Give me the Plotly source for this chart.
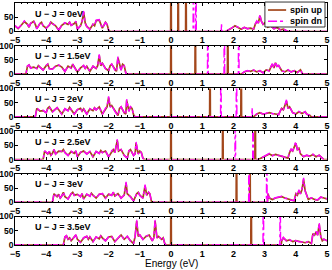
import plotly.graph_objects as go
from plotly.subplots import make_subplots

labels = ["U − J = 0eV", "U − J = 1.5eV", "U − J = 2eV",
          "U − J = 2.5eV", "U − J = 3eV", "U − J = 3.5eV"]
legend_names = ["spin up", "spin dn"]
x_ticks = [-5, -4, -3, -2, -1, 0, 1, 2, 3, 4, 5]
y_ticks = [0, 50, 100]

# ---------------- panel 1 : U-J = 0 eV ----------------
vb1_e = [-5.0, -4.95, -4.9, -4.8, -4.7, -4.6, -4.55, -4.5, -4.4, -4.35, -4.3, -4.2, -4.15, -4.1, -4.0,
         -3.9, -3.85, -3.8, -3.7, -3.6, -3.5, -3.4, -3.3, -3.25, -3.2, -3.1, -3.05, -3.0, -2.9, -2.85,
         -2.8, -2.75, -2.7, -2.6, -2.5, -2.45, -2.4, -2.3, -2.2, -2.1, -2.05, -2.0, -1.95]
vb1_up = [20, 15, 10, 22, 35, 25, 15, 28, 36, 25, 10, 28, 32, 20, 12,
          22, 33, 28, 20, 5, 22, 30, 25, 32, 22, 28, 35, 8, 20, 35,
          68, 30, 18, 8, 25, 20, 38, 40, 12, 32, 25, 5, 0]
vb1_dn = [21, 14, 11, 23, 37, 24, 16, 29, 38, 24, 9, 29, 33, 19, 11,
          23, 35, 27, 21, 4, 23, 31, 24, 34, 21, 29, 36, 7, 21, 36,
          72, 29, 17, 7, 26, 21, 40, 42, 11, 33, 24, 4, 0]
cb1_e = [1.75, 1.85, 1.95, 2.05, 2.15, 2.25, 2.35, 2.45, 2.55, 2.65, 2.7, 2.75, 2.8, 2.85, 2.9,
         2.95, 3.0, 3.1, 3.2, 3.3, 3.4, 3.5, 3.6, 3.7, 3.75]
cb1_up = [0, 5, 12, 20, 15, 8, 14, 10, 12, 8, 25, 35, 30, 55, 35,
          25, 30, 15, 20, 10, 14, 6, 8, 3, 0]
cb1_dn = [0, 6, 13, 21, 14, 9, 15, 9, 13, 9, 27, 37, 29, 60, 34,
          26, 31, 14, 21, 9, 15, 5, 9, 2, 0]
pk1_up_e = [0.0, 0.23, 0.48]
pk1_up_h = [300, 300, 300]
pk1_dn_e = [0.72, 0.80, 1.62]
pk1_dn_h = [300, 300, 25]

# ---------------- panel 2 : U-J = 1.5 eV ----------------
vb2_e = [-4.65, -4.6, -4.55, -4.5, -4.4, -4.3, -4.25, -4.2, -4.1, -4.0, -3.95, -3.9, -3.8, -3.7, -3.6,
         -3.5, -3.4, -3.3, -3.2, -3.15, -3.1, -3.0, -2.9, -2.8, -2.75, -2.7, -2.6, -2.5, -2.4, -2.35,
         -2.3, -2.25, -2.2, -2.1, -2.0, -1.95, -1.9, -1.8, -1.75, -1.7, -1.65, -1.6, -1.55, -1.5, -1.45, -1.4]
vb2_up = [0, 28, 32, 22, 25, 20, 30, 25, 15, 30, 35, 20, 18, 28, 32,
          25, 10, 28, 22, 35, 25, 8, 22, 30, 20, 28, 10, 28, 20, 30,
          66, 30, 38, 20, 12, 30, 35, 15, 10, 58, 30, 15, 35, 30, 5, 0]
vb2_dn = [0, 29, 33, 21, 26, 19, 31, 24, 14, 31, 36, 19, 17, 29, 33,
          24, 9, 29, 21, 36, 24, 7, 23, 31, 19, 29, 9, 29, 21, 31,
          70, 29, 39, 19, 11, 31, 36, 14, 9, 62, 29, 14, 36, 31, 4, 0]
cb2_e = [2.25, 2.35, 2.45, 2.55, 2.65, 2.75, 2.85, 2.95, 3.05, 3.15, 3.2, 3.25, 3.3, 3.35, 3.4,
         3.45, 3.55, 3.65, 3.75, 3.85, 3.95, 4.05, 4.15, 4.22]
cb2_up = [0, 8, 12, 10, 14, 8, 12, 5, 15, 12, 25, 35, 22, 40, 28,
          30, 12, 8, 15, 8, 12, 6, 15, 0]
cb2_dn = [0, 9, 13, 9, 15, 7, 13, 4, 16, 11, 27, 37, 21, 44, 27,
          31, 11, 9, 16, 7, 13, 5, 16, 0]
pk2_up_e = [0.0, 0.78, 1.82]
pk2_up_h = [300, 300, 300]
pk2_dn_e = [1.18, 1.71, 2.17]
pk2_dn_h = [300, 300, 300]

# ---------------- panel 3 : U-J = 2 eV ----------------
vb3_e = [-4.35, -4.3, -4.25, -4.2, -4.1, -4.0, -3.95, -3.9, -3.8, -3.7, -3.65, -3.6, -3.5, -3.4, -3.3,
         -3.25, -3.2, -3.1, -3.0, -2.9, -2.85, -2.8, -2.7, -2.6, -2.5, -2.45, -2.4, -2.3, -2.2, -2.1,
         -2.05, -2.0, -1.95, -1.9, -1.8, -1.7, -1.65, -1.6, -1.5, -1.45, -1.42, -1.35, -1.3, -1.25,
         -1.2, -1.15]
vb3_up = [0, 30, 25, 20, 22, 15, 30, 35, 18, 28, 32, 25, 10, 28, 22,
          33, 25, 10, 25, 30, 20, 28, 10, 28, 22, 32, 25, 35, 10, 30,
          35, 68, 35, 40, 20, 5, 30, 35, 15, 10, 58, 20, 35, 30,
          8, 0]
vb3_dn = [0, 31, 24, 21, 23, 14, 31, 36, 17, 29, 33, 24, 9, 29, 21,
          34, 24, 9, 26, 31, 19, 29, 9, 29, 21, 33, 24, 36, 9, 31,
          36, 72, 34, 41, 19, 4, 31, 36, 14, 9, 62, 19, 36, 31,
          7, 0]
cb3_e = [2.65, 2.75, 2.85, 2.95, 3.05, 3.15, 3.25, 3.35, 3.45, 3.5, 3.55, 3.6, 3.65, 3.7, 3.75,
         3.8, 3.9, 4.0, 4.1, 4.2, 4.3, 4.35, 4.45, 4.5]
cb3_up = [0, 10, 15, 10, 12, 15, 12, 10, 8, 20, 30, 25, 40, 55, 30,
          35, 15, 10, 18, 12, 18, 10, 5, 0]
cb3_dn = [0, 11, 16, 9, 13, 16, 11, 11, 7, 22, 32, 24, 43, 60, 29,
          36, 14, 11, 19, 11, 19, 9, 6, 0]
pk3_up_e = [0.0, 1.25, 2.25]
pk3_up_h = [300, 300, 300]
pk3_dn_e = [1.60, 2.10, 2.60]
pk3_dn_h = [300, 300, 32]

# ---------------- panel 4 : U-J = 2.5 eV ----------------
vb4_e = [-4.1, -4.05, -4.0, -3.95, -3.9, -3.85, -3.8, -3.75, -3.7, -3.6, -3.5, -3.45, -3.4, -3.3, -3.2,
         -3.1, -3.05, -3.0, -2.9, -2.8, -2.7, -2.6, -2.5, -2.4, -2.3, -2.25, -2.2, -2.1, -2.0, -1.9,
         -1.85, -1.8, -1.72, -1.68, -1.6, -1.5, -1.4, -1.35, -1.3, -1.2, -1.15, -1.12, -1.05, -1.0,
         -0.95, -0.9, -0.85]
vb4_up = [0, 30, 25, 20, 28, 15, 22, 35, 20, 30, 28, 35, 25, 15, 28,
          22, 30, 10, 25, 30, 20, 28, 10, 28, 22, 32, 25, 30, 10, 30,
          35, 25, 68, 30, 35, 15, 5, 30, 35, 15, 20, 58, 20, 30,
          25, 5, 0]
vb4_dn = [0, 31, 24, 21, 29, 14, 23, 36, 19, 31, 29, 36, 24, 14, 29,
          21, 31, 9, 26, 31, 19, 29, 9, 29, 21, 33, 24, 31, 9, 31,
          36, 24, 72, 29, 36, 14, 4, 31, 36, 14, 21, 62, 19, 31,
          24, 4, 0]
cb4_e = [2.8, 2.9, 3.0, 3.1, 3.15, 3.25, 3.35, 3.45, 3.55, 3.65, 3.75, 3.8, 3.85, 3.9, 3.95,
         4.0, 4.05, 4.1, 4.15, 4.25, 4.35, 4.45, 4.55, 4.65, 4.75, 4.85, 4.9]
cb4_up = [0, 5, 10, 15, 20, 14, 18, 15, 12, 8, 5, 25, 35, 30, 45,
          58, 35, 40, 20, 10, 15, 12, 18, 10, 15, 5, 0]
cb4_dn = [0, 6, 11, 16, 22, 13, 19, 14, 13, 7, 6, 28, 37, 29, 48,
          64, 34, 42, 19, 11, 16, 11, 19, 9, 16, 4, 0]
pk4_up_e = [0.0, 1.66, 2.70]
pk4_up_h = [300, 300, 300]
pk4_dn_e = [2.06, 2.63]
pk4_dn_h = [300, 300]

# ---------------- panel 5 : U-J = 3 eV ----------------
vb5_e = [-3.8, -3.75, -3.7, -3.65, -3.6, -3.55, -3.5, -3.45, -3.4, -3.3, -3.2, -3.15, -3.1, -3.0, -2.9,
         -2.85, -2.8, -2.7, -2.6, -2.55, -2.5, -2.4, -2.3, -2.2, -2.1, -2.0, -1.9, -1.85, -1.8, -1.7,
         -1.6, -1.5, -1.44, -1.4, -1.3, -1.2, -1.1, -1.05, -1.0, -0.9, -0.83, -0.78, -0.72, -0.68, -0.62]
vb5_up = [0, 30, 25, 20, 28, 15, 22, 35, 20, 12, 30, 35, 25, 28, 20,
          30, 12, 28, 22, 32, 25, 15, 28, 30, 15, 28, 25, 35, 22, 30,
          15, 25, 68, 30, 20, 5, 30, 35, 25, 15, 58, 25, 35, 30, 0]
vb5_dn = [0, 31, 24, 21, 29, 14, 23, 36, 19, 11, 31, 36, 24, 29, 19,
          31, 11, 29, 21, 33, 24, 14, 29, 31, 14, 29, 24, 36, 21, 31,
          14, 26, 72, 29, 19, 4, 31, 36, 24, 14, 62, 24, 36, 31, 0]
cb5_e = [3.09, 3.11, 3.15, 3.25, 3.35, 3.45, 3.55, 3.65, 3.75, 3.85, 3.95, 4.0, 4.05, 4.1, 4.15, 4.2,
         4.25, 4.3, 4.4, 4.5, 4.6, 4.7, 4.8, 4.9, 5.0]
cb5_up = [0, 30, 15, 10, 15, 18, 20, 15, 12, 8, 5, 30, 25, 40, 30, 45,
          80, 40, 10, 15, 10, 8, 18, 15, 12]
cb5_dn = [0, 32, 16, 11, 16, 19, 21, 14, 13, 7, 6, 33, 24, 44, 29, 48,
          86, 39, 11, 16, 9, 9, 19, 14, 13]
pk5_up_e = [0.0, 2.10, 2.53]
pk5_up_h = [300, 300, 300]
pk5_dn_e = [2.50, 3.07]
pk5_dn_h = [300, 300]

# ---------------- panel 6 : U-J = 3.5 eV ----------------
vb6_e = [-3.45, -3.4, -3.35, -3.3, -3.25, -3.2, -3.1, -3.05, -3.0, -2.9, -2.8, -2.7, -2.65, -2.6, -2.5,
         -2.4, -2.3, -2.25, -2.2, -2.1, -2.0, -1.9, -1.8, -1.7, -1.65, -1.6, -1.5, -1.4, -1.3, -1.2,
         -1.15, -1.1, -1.05, -1.0, -0.9, -0.8, -0.7, -0.6, -0.55, -0.51, -0.45, -0.4, -0.3, -0.25,
         -0.2, -0.15]
vb6_up = [0, 28, 32, 20, 25, 15, 30, 35, 20, 10, 25, 30, 20, 28, 12,
          28, 22, 32, 25, 15, 28, 30, 12, 25, 30, 35, 20, 30, 15, 5,
          30, 84, 30, 35, 20, 30, 35, 15, 25, 84, 25, 30, 20, 25,
          5, 0]
vb6_dn = [0, 29, 33, 19, 26, 14, 31, 36, 19, 9, 26, 31, 19, 29, 11,
          29, 21, 33, 24, 14, 29, 31, 11, 26, 31, 36, 19, 31, 14, 4,
          31, 88, 29, 36, 19, 31, 36, 14, 26, 88, 24, 31, 19, 26,
          4, 0]
cb6_e = [3.53, 3.55, 3.6, 3.7, 3.8, 3.9, 4.0, 4.1, 4.2, 4.3, 4.4, 4.5, 4.55, 4.6, 4.65, 4.7,
         4.75, 4.8, 4.85, 4.9, 5.0]
cb6_up = [0, 15, 25, 15, 18, 12, 15, 12, 10, 8, 12, 5, 40, 35, 45, 35,
          72, 30, 15, 20, 15]
cb6_dn = [0, 16, 27, 14, 19, 11, 16, 11, 11, 7, 13, 6, 43, 34, 48, 34,
          78, 29, 16, 21, 14]
pk6_up_e = [0.0, 2.57]
pk6_up_h = [300, 300]
pk6_dn_e = [2.96, 3.50]
pk6_dn_h = [300, 300]

panels = [
    (vb1_e, vb1_up, vb1_dn, cb1_e, cb1_up, cb1_dn, pk1_up_e, pk1_up_h, pk1_dn_e, pk1_dn_h),
    (vb2_e, vb2_up, vb2_dn, cb2_e, cb2_up, cb2_dn, pk2_up_e, pk2_up_h, pk2_dn_e, pk2_dn_h),
    (vb3_e, vb3_up, vb3_dn, cb3_e, cb3_up, cb3_dn, pk3_up_e, pk3_up_h, pk3_dn_e, pk3_dn_h),
    (vb4_e, vb4_up, vb4_dn, cb4_e, cb4_up, cb4_dn, pk4_up_e, pk4_up_h, pk4_dn_e, pk4_dn_h),
    (vb5_e, vb5_up, vb5_dn, cb5_e, cb5_up, cb5_dn, pk5_up_e, pk5_up_h, pk5_dn_e, pk5_dn_h),
    (vb6_e, vb6_up, vb6_dn, cb6_e, cb6_up, cb6_dn, pk6_up_e, pk6_up_h, pk6_dn_e, pk6_dn_h),
]

UP_COLOR = "#A3471B"
DN_COLOR = "#FF00FF"
FONT = "Liberation Sans, Arial, sans-serif"
HW = 0.012  # half width of sharp peaks (eV)


def build(vb_e, vb_v, cb_e, cb_v, pk_e, pk_h):
    pts = [(-5.0, 0.0), (5.0, 0.0)]
    pts += list(zip(vb_e, vb_v))
    pts += list(zip(cb_e, cb_v))
    for e, h in zip(pk_e, pk_h):
        pts += [(e - HW, 0.0), (e, h), (e + HW, 0.0)]
    pts.sort(key=lambda p: p[0])
    xs, ys = [], []
    for x, y in pts:
        if xs and abs(xs[-1] - x) < 1e-9:
            ys[-1] = max(ys[-1], y)
        else:
            xs.append(x)
            ys.append(y)
    return xs, ys


n = len(panels)
fig = make_subplots(rows=n, cols=1, vertical_spacing=0.0587)

UP_LINE = dict(color=UP_COLOR, width=1.7)
DN_LINE = dict(color=DN_COLOR, width=1.4, dash="dashdot")

for i, p in enumerate(panels):
    vb_e, vb_up, vb_dn, cb_e, cb_up, cb_dn, pu_e, pu_h, pd_e, pd_h = p
    xu, yu = build(vb_e, vb_up, cb_e, cb_up, pu_e, pu_h)
    xd, yd = build(vb_e, vb_dn, cb_e, cb_dn, pd_e, pd_h)
    fig.add_trace(go.Scatter(x=xu, y=yu, mode="lines", name=legend_names[0],
                             line=UP_LINE, showlegend=False), row=i + 1, col=1)
    fig.add_trace(go.Scatter(x=xd, y=yd, mode="lines", name=legend_names[1],
                             line=DN_LINE, showlegend=False), row=i + 1, col=1)
    ax = "" if i == 0 else str(i + 1)
    fig.add_annotation(x=-4.42, y=63, xref="x" + ax, yref="y" + ax,
                       text=labels[i], showarrow=False, xanchor="left", yanchor="middle",
                       font=dict(family=FONT, size=9, color="black", weight="bold"))

fig.update_xaxes(range=[-5, 5], tickvals=x_ticks, ticks="inside", ticklen=3,
                 tickcolor="black", tickwidth=0.8,
                 minor=dict(dtick=0.2, tick0=0, ticks="inside", ticklen=1.5,
                            tickcolor="black", tickwidth=0.6),
                 mirror="allticks", showline=True, linecolor="black", linewidth=0.8,
                 showgrid=False, zeroline=False, automargin=False,
                 tickfont=dict(family=FONT, size=9, color="black", weight="bold"))
fig.update_yaxes(range=[0, 100], tickvals=y_ticks, ticks="inside", ticklen=3,
                 tickcolor="black", tickwidth=0.8,
                 mirror="allticks", showline=True, linecolor="black", linewidth=0.8,
                 showgrid=False, zeroline=False, automargin=False, ticklabelstandoff=-1,
                 tickfont=dict(family=FONT, size=8.5, color="black", weight="bold"))

fig.add_annotation(x=0.5, y=0, xref="paper", yref="paper", yanchor="middle",
                   yshift=-18.5, text="Energy (eV)", showarrow=False,
                   font=dict(family=FONT, size=10, color="black"))

# legend box drawn in the top panel (paper coordinates)
fig.add_shape(type="rect", xref="paper", yref="paper", x0=0.801, x1=0.9936, y0=0.9008, y1=1.004,
              line=dict(color="black", width=0.8), fillcolor="white", layer="above")
legend_y = [0.971, 0.9245]
legend_lines = [UP_LINE, DN_LINE]
for name, yy, ln in zip(legend_names, legend_y, legend_lines):
    fig.add_shape(type="line", xref="paper", yref="paper", x0=0.811, x1=0.869, y0=yy, y1=yy,
                  line=ln, layer="above")
    fig.add_annotation(x=0.876, y=yy, xref="paper", yref="paper", xanchor="left",
                       yanchor="middle", text=name, showarrow=False,
                       font=dict(family=FONT, size=9, color="black", weight="bold"))

fig.update_layout(
    width=332, height=270,
    margin=dict(l=15, r=5, t=3, b=25),
    paper_bgcolor="white", plot_bgcolor="white",
    font=dict(family=FONT, size=9, color="black"),
    showlegend=False,
)

fig.write_html("out.html", config={"displayModeBar": False},
               post_script="document.body.style.margin='0';")
